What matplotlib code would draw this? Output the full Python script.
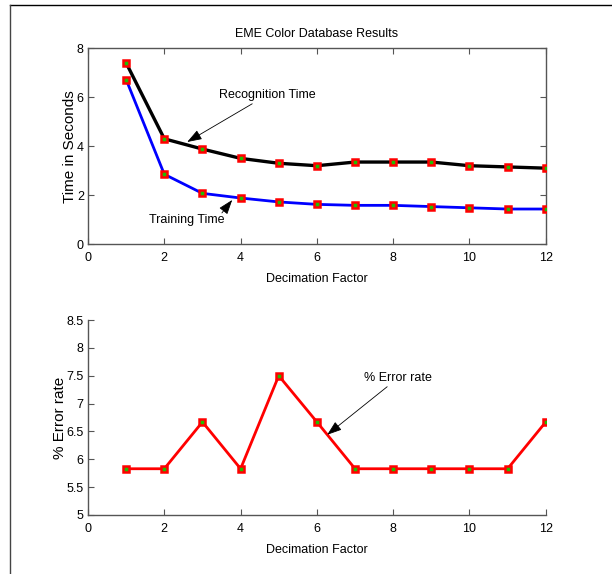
import matplotlib.pyplot as plt
from matplotlib.lines import Line2D
import numpy as np

decimation = [1, 2, 3, 4, 5, 6, 7, 8, 9, 10, 11, 12]
recognition_time = [7.4, 4.3, 3.88, 3.5, 3.3, 3.2, 3.35, 3.35, 3.35, 3.2, 3.15, 3.1]
training_time = [6.72, 2.85, 2.07, 1.88, 1.72, 1.62, 1.58, 1.58, 1.53, 1.48, 1.43, 1.43]
error_rate = [5.83, 5.83, 6.67, 5.83, 7.5, 6.67, 5.83, 5.83, 5.83, 5.83, 5.83, 6.67]

plt.rcParams['font.family'] = ['Liberation Sans', 'DejaVu Sans']
plt.rcParams['font.size'] = 9

spine_col = '#555555'


def style_axes(ax, box=True):
    for s in ax.spines.values():
        s.set_color(spine_col)
        s.set_linewidth(1.0)
    if not box:
        ax.spines['top'].set_visible(False)
        ax.spines['right'].set_visible(False)
    ax.tick_params(direction='in', length=4, color=spine_col,
                   top=box, right=box, labelsize=9)
    ax.tick_params(axis='x', pad=6)
    ax.tick_params(axis='y', pad=3)


def plot_marked(ax, x, y, color, lw):
    ax.plot(x, y, color=color, lw=lw, zorder=2)
    ax.plot(x, y, ls='none', marker='s', markersize=4.5, mfc='#22bb00',
            mec='red', mew=1.8, zorder=3)


fig = plt.figure(figsize=(6.12, 5.74), dpi=100)

# top panel: times
ax1 = fig.add_axes([0.1438, 0.5749, 0.748, 0.341])
plot_marked(ax1, decimation, recognition_time, 'black', 2.4)
plot_marked(ax1, decimation, training_time, 'blue', 2.0)
ax1.set_xlim(0, 12)
ax1.set_ylim(0, 8)
ax1.set_xticks(np.arange(0, 13, 2))
ax1.set_yticks(np.arange(0, 9, 2))
ax1.set_title("EME Color Database Results", fontsize=9, pad=8)
ax1.set_xlabel("Decimation Factor", labelpad=6)
ax1.set_ylabel("Time in Seconds", fontsize=11, labelpad=0)
style_axes(ax1, box=True)

arrow = dict(arrowstyle='-|>,head_length=1.0,head_width=0.35', color='black',
             lw=0.6, shrinkA=0, shrinkB=0)
ax1.annotate("Recognition Time", xy=(2.6, 4.17), xytext=(3.43, 6.09),
             ha='left', va='center', arrowprops=arrow)
ax1.annotate("", xy=(3.78, 1.8), xytext=(3.51, 1.27), arrowprops=arrow)
ax1.text(1.6, 0.98, "Training Time", ha='left', va='center')

# bottom panel: error rate
ax2 = fig.add_axes([0.1438, 0.1028, 0.748, 0.3397])
plot_marked(ax2, decimation, error_rate, 'red', 2.0)
ax2.set_xlim(0, 12)
ax2.set_ylim(5, 8.5)
ax2.set_xticks(np.arange(0, 13, 2))
ax2.set_yticks(np.arange(5, 8.6, 0.5))
ax2.set_yticklabels(['5', '5.5', '6', '6.5', '7', '7.5', '8', '8.5'])
ax2.set_xlabel("Decimation Factor", labelpad=6)
ax2.set_ylabel("% Error rate", fontsize=11, labelpad=0)
style_axes(ax2, box=False)
ax2.annotate("% Error rate", xy=(6.27, 6.44), xytext=(7.24, 7.46),
             ha='left', va='center', arrowprops=arrow)

# page border lines
fig.add_artist(Line2D([10 / 612, 1.0], [1 - 5 / 574, 1 - 5 / 574],
                      color='black', lw=1.0))
fig.add_artist(Line2D([10 / 612, 10 / 612], [0.0, 1 - 5 / 574],
                      color='#444444', lw=1.0))

fig.savefig("out.png", dpi=100)
